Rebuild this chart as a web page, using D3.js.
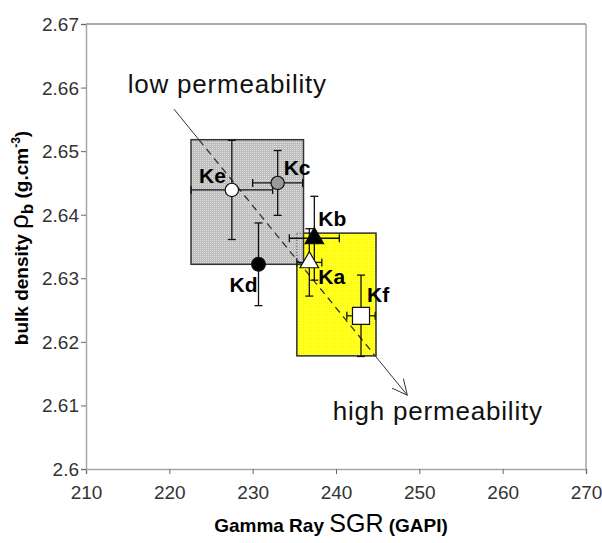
<!DOCTYPE html>
<html>
<head>
<meta charset="utf-8">
<script src="https://cdn.jsdelivr.net/npm/d3@7"></script>
<style>
  body { margin: 0; background: #fff; }
  svg { display: block; font-family: "Liberation Sans", Arial, sans-serif; }
</style>
</head>
<body>
<svg></svg>
<script>
const width = 602
const height = 543

// samples
const samples = ["Ka", "Kb", "Kc", "Kd", "Ke", "Kf"]
const sgr = [236.8, 237.4, 233.0, 230.7, 227.5, 243.0]
const sgrErr = [1.5, 3.0, 3.0, 0, 4.9, 1.7]
const density = [2.6325, 2.6363, 2.6450, 2.6322, 2.6439, 2.6241]
const densityErr = [0.0053, 0.0066, 0.0051, 0.0065, 0.0078, 0.0064]

// shaded groups
const boxNames = ["yellow", "gray"]
const boxSgr = [[235.3, 244.8], [222.6, 236.1]]
const boxDensity = [[2.6178, 2.6371], [2.6322, 2.6518]]

// permeability trend
const trendSgr = [220.56, 248.56]
const trendDensity = [2.6566, 2.6116]
const trendText = ["low permeability", "high permeability"]
const trendTextSgr = [215.0, 239.6]
const trendTextDensity = [2.6591, 2.6077]

const xTicks = [210, 220, 230, 240, 250, 260, 270]
const yTicks = [2.6, 2.61, 2.62, 2.63, 2.64, 2.65, 2.66, 2.67]

const margin = { top: 24, right: 16, bottom: 74, left: 86 }

const x = d3.scaleLinear().domain([210, 270]).range([margin.left, width - margin.right])
const y = d3.scaleLinear().domain([2.6, 2.67]).range([height - margin.bottom, margin.top])

const svg = d3.select("svg").attr("width", width).attr("height", height)

const defs = svg.append("defs")
function pattern(id, base, dot) {
  const p = defs.append("pattern")
    .attr("id", id)
    .attr("patternUnits", "userSpaceOnUse")
    .attr("width", 2).attr("height", 2)
  p.append("rect").attr("width", 2).attr("height", 2).attr("fill", base)
  p.append("rect").attr("width", 1).attr("height", 1).attr("fill", dot)
}
pattern("pat-gray", "#bdbdbd", "#e2e2e2")
pattern("pat-yellow", "#ffff00", "#ffff70")

// frame
svg.append("line")
  .attr("x1", x(210)).attr("x2", x(270)).attr("y1", y(2.67)).attr("y2", y(2.67))
  .attr("stroke", "#8c8c8c").attr("stroke-width", 1.5)
svg.append("line")
  .attr("x1", x(270)).attr("x2", x(270)).attr("y1", y(2.67)).attr("y2", y(2.6))
  .attr("stroke", "#a6a6a6").attr("stroke-width", 1.5)

const xAxis = svg.append("g")
  .attr("transform", "translate(0," + y(2.6) + ")")
  .call(d3.axisBottom(x).tickValues(xTicks).tickSize(5).tickPadding(12))
const yAxis = svg.append("g")
  .attr("transform", "translate(" + x(210) + ",0)")
  .call(d3.axisLeft(y).tickValues(yTicks).tickSize(5).tickPadding(2).tickFormat(d3.format("")))

;[xAxis, yAxis].forEach(function (a) {
  a.select(".domain").attr("stroke", "#a6a6a6").attr("stroke-width", 1.5)
  a.selectAll(".tick line").attr("stroke", "#666")
  a.selectAll(".tick text")
    .attr("fill", "#333")
    .style("font-size", "19px")
    .style("font-family", "'Liberation Sans', Arial, sans-serif")
})
yAxis.selectAll(".tick text").attr("dy", "0.34em")

// boxes
const boxes = svg.append("g")
boxNames.forEach(function (name, i) {
  boxes.append("rect")
    .attr("x", x(boxSgr[i][0]))
    .attr("y", y(boxDensity[i][1]))
    .attr("width", x(boxSgr[i][1]) - x(boxSgr[i][0]))
    .attr("height", y(boxDensity[i][0]) - y(boxDensity[i][1]))
    .attr("fill", "url(#pat-" + name + ")")
    .attr("stroke", "#333")
    .attr("stroke-width", 1.5)
})
// yellow outline seen through the gray box
boxes.append("rect")
  .attr("x", x(boxSgr[0][0]))
  .attr("y", y(boxDensity[0][1]))
  .attr("width", x(boxSgr[0][1]) - x(boxSgr[0][0]))
  .attr("height", y(boxDensity[0][0]) - y(boxDensity[0][1]))
  .attr("fill", "none")
  .attr("stroke", "#444")
  .attr("stroke-width", 1)
  .attr("stroke-dasharray", "1,2")

// trend line: solid outside the boxes, dashed through them
const p0 = [x(trendSgr[0]), y(trendDensity[0])]
const p1 = [x(trendSgr[1]), y(trendDensity[1])]
const t1 = (trendDensity[0] - boxDensity[1][1]) / (trendDensity[0] - trendDensity[1])
const t2 = (trendDensity[0] - boxDensity[0][0]) / (trendDensity[0] - trendDensity[1])
function along(t) { return [p0[0] + (p1[0] - p0[0]) * t, p0[1] + (p1[1] - p0[1]) * t] }
const trend = svg.append("g").attr("stroke", "#333").attr("fill", "none")
trend.append("line")
  .attr("x1", p0[0]).attr("y1", p0[1]).attr("x2", along(t1)[0]).attr("y2", along(t1)[1])
  .attr("stroke-width", 1)
trend.append("line")
  .attr("x1", along(t1)[0]).attr("y1", along(t1)[1]).attr("x2", along(t2)[0]).attr("y2", along(t2)[1])
  .attr("stroke-width", 1.3).attr("stroke-dasharray", "7,5")
trend.append("line")
  .attr("x1", along(t2)[0]).attr("y1", along(t2)[1]).attr("x2", p1[0]).attr("y2", p1[1])
  .attr("stroke-width", 1)
const ang = Math.atan2(p1[1] - p0[1], p1[0] - p0[0])
;[-0.45, 0.45].forEach(function (da) {
  trend.append("line")
    .attr("x1", p1[0]).attr("y1", p1[1])
    .attr("x2", p1[0] - 17 * Math.cos(ang + da))
    .attr("y2", p1[1] - 17 * Math.sin(ang + da))
    .attr("stroke-width", 1)
})

svg.selectAll(".trend-text")
  .data(trendText)
  .enter()
  .append("text")
  .attr("class", "trend-text")
  .attr("x", function (d, i) { return x(trendTextSgr[i]) })
  .attr("y", function (d, i) { return y(trendTextDensity[i]) })
  .style("font-size", "26px")
  .style("letter-spacing", "0.8px")
  .attr("fill", "#111")
  .text(function (d) { return d })

// error bars
const cap = 4
const bars = svg.append("g").attr("stroke", "#111").attr("stroke-width", 1.3)
samples.forEach(function (s, i) {
  const cx = x(sgr[i]), cy = y(density[i])
  const yt = y(density[i] + densityErr[i]), yb = y(density[i] - densityErr[i])
  bars.append("line").attr("x1", cx).attr("x2", cx).attr("y1", yt).attr("y2", yb)
  bars.append("line").attr("x1", cx - cap).attr("x2", cx + cap).attr("y1", yt).attr("y2", yt)
  bars.append("line").attr("x1", cx - cap).attr("x2", cx + cap).attr("y1", yb).attr("y2", yb)
  if (sgrErr[i] > 0) {
    const xl = x(sgr[i] - sgrErr[i]), xr = x(sgr[i] + sgrErr[i])
    bars.append("line").attr("x1", xl).attr("x2", xr).attr("y1", cy).attr("y2", cy)
    bars.append("line").attr("x1", xl).attr("x2", xl).attr("y1", cy - cap).attr("y2", cy + cap)
    bars.append("line").attr("x1", xr).attr("x2", xr).attr("y1", cy - cap).attr("y2", cy + cap)
  }
})

// markers
const markerStyle = {
  Ka: { type: d3.symbolTriangle, size: 150, fill: "#fff" },
  Kb: { type: d3.symbolTriangle, size: 150, fill: "#000" },
  Kc: { type: d3.symbolCircle, size: 140, fill: "#999" },
  Kd: { type: d3.symbolCircle, size: 150, fill: "#000" },
  Ke: { type: d3.symbolCircle, size: 140, fill: "#fff" },
  Kf: { type: d3.symbolSquare, size: 290, fill: "#fff" }
}
const labelOffset = {
  Ka: [9, 22, "start"], Kb: [4, -12, "start"], Kc: [6, -8, "start"],
  Kd: [-1, 28, "end"], Ke: [-6, -7, "end"], Kf: [6, -14, "start"]
}

svg.append("g")
  .selectAll("path")
  .data(samples)
  .enter()
  .append("path")
  .attr("transform", function (d, i) { return "translate(" + x(sgr[i]) + "," + y(density[i]) + ")" })
  .attr("d", function (d) { return d3.symbol().type(markerStyle[d].type).size(markerStyle[d].size)() })
  .attr("fill", function (d) { return markerStyle[d].fill })
  .attr("stroke", "#111")
  .attr("stroke-width", 1.2)

svg.append("g")
  .selectAll("text")
  .data(samples)
  .enter()
  .append("text")
  .attr("x", function (d, i) { return x(sgr[i]) + labelOffset[d][0] })
  .attr("y", function (d, i) { return y(density[i]) + labelOffset[d][1] })
  .attr("text-anchor", function (d) { return labelOffset[d][2] })
  .style("font-size", "21px")
  .style("font-weight", "bold")
  .attr("fill", "#000")
  .text(function (d) { return d })

// axis titles
const xt = svg.append("text")
  .attr("x", (x(210) + x(270)) / 2 - 5)
  .attr("y", 532)
  .attr("text-anchor", "middle")
  .attr("fill", "#000")
xt.append("tspan").style("font-size", "19px").style("font-weight", "bold").text("Gamma Ray ")
xt.append("tspan").style("font-size", "25px").text("SGR")
xt.append("tspan").style("font-size", "19px").style("font-weight", "bold").text(" (GAPI)")

const yt = svg.append("text")
  .attr("transform", "translate(28," + 238 + ") rotate(-90)")
  .attr("text-anchor", "middle")
  .attr("fill", "#000")
yt.append("tspan").style("font-size", "19px").style("font-weight", "bold").text("bulk density ")
yt.append("tspan").style("font-size", "26px").text("ρ")
yt.append("tspan").style("font-size", "17px").style("font-weight", "bold").attr("dy", 5).text("b")
yt.append("tspan").style("font-size", "19px").style("font-weight", "bold").attr("dy", -5).text(" (g.cm")
yt.append("tspan").style("font-size", "12px").style("font-weight", "bold").attr("dy", -8).text("-3")
yt.append("tspan").style("font-size", "19px").style("font-weight", "bold").attr("dy", 8).text(")")
</script>
</body>
</html>
